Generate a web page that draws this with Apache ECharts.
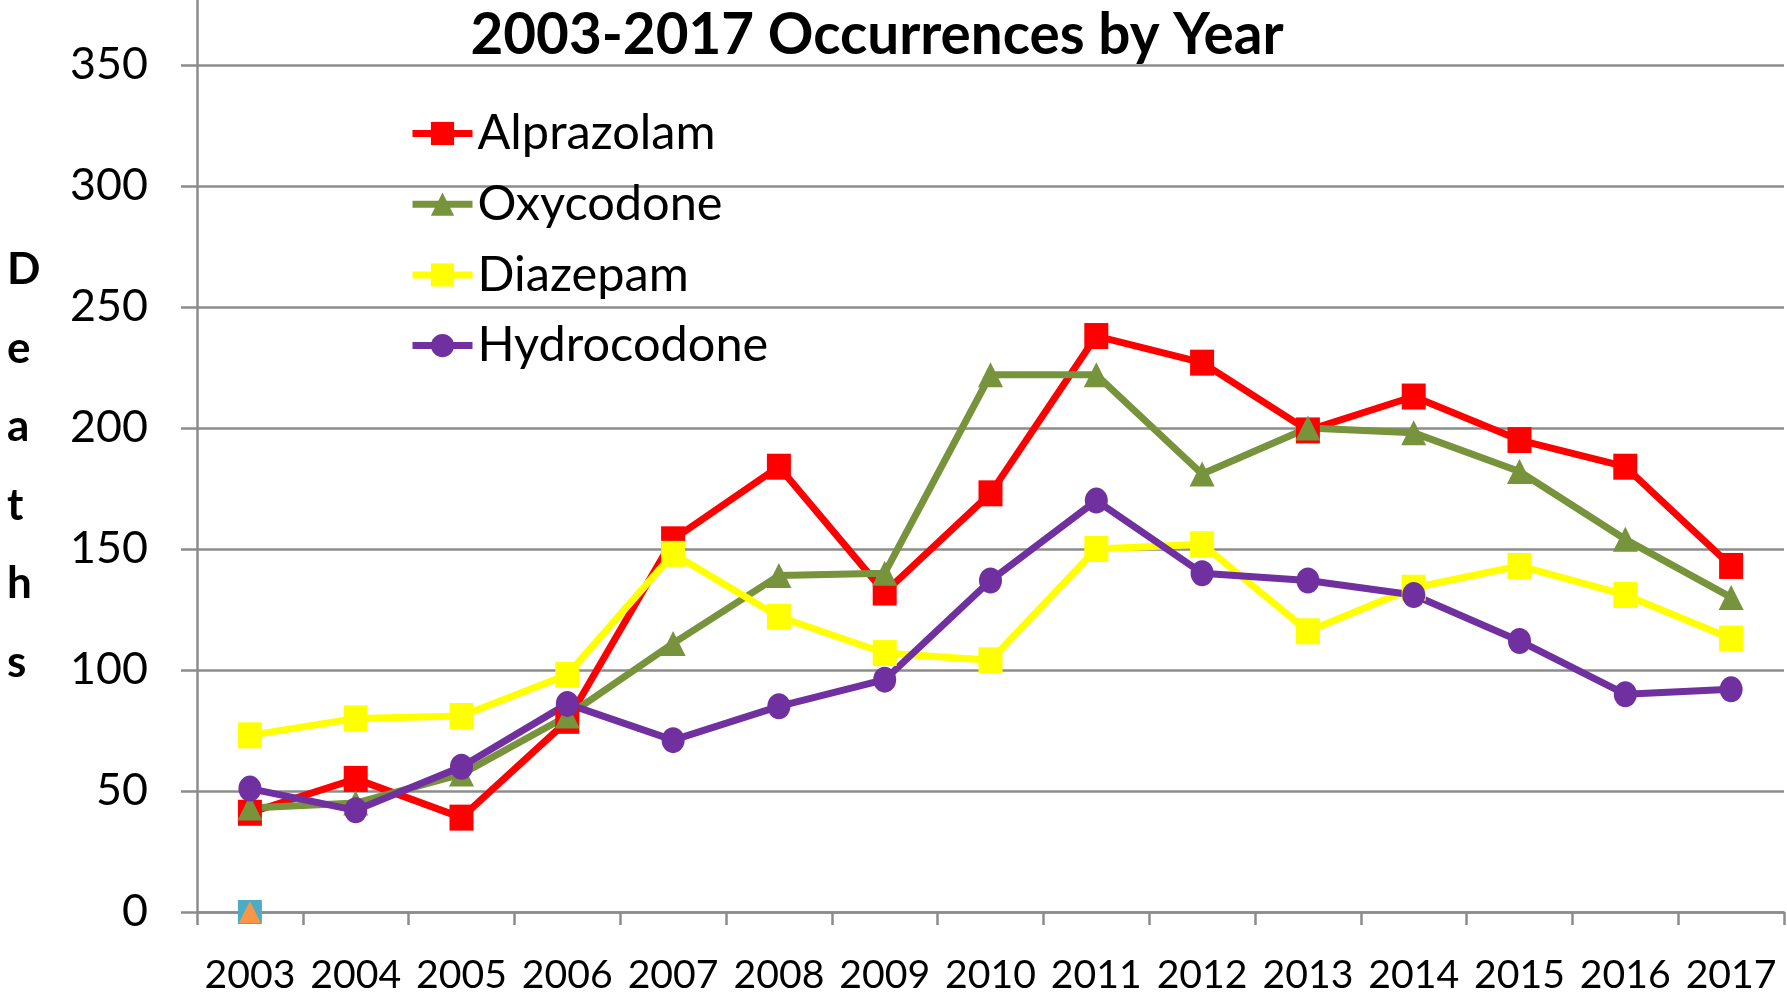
<!DOCTYPE html>
<html><head><meta charset="utf-8">
<script src="https://cdn.jsdelivr.net/npm/echarts@6/dist/echarts.min.js"></script>
<style>html,body{margin:0;padding:0;background:#fff}#c{width:1787px;height:1000px}</style>
</head><body><div id="c"></div>
<script>
const years = ['2003','2004','2005','2006','2007','2008','2009','2010','2011','2012','2013','2014','2015','2016','2017'];
const alprazolam  = [41, 55, 39, 79, 154, 184, 132, 173, 238, 227, 199, 213, 195, 184, 143];
const oxycodone   = [43, 45, 57, 81, 111, 139, 140, 222, 222, 181, 200, 198, 182, 154, 130];
const diazepam    = [73, 80, 81, 98, 148, 122, 107, 104, 150, 152, 116, 134, 143, 131, 113];
const hydrocodone = [51, 42, 60, 86, 71, 85, 96, 137, 170, 140, 137, 131, 112, 90, 92];
const series5 = [0, null, null, null, null, null, null, null, null, null, null, null, null, null, null];
const series6 = [0, null, null, null, null, null, null, null, null, null, null, null, null, null, null];
const yTicks = [0, 50, 100, 150, 200, 250, 300, 350];
const chartTitle = '2003-2017 Occurrences by Year';
const axisTitle = 'Deaths';

function avail(f){
  const c=document.createElement('canvas').getContext('2d');
  const s='mmmmWWWiiilll0123abc';
  c.font='100px monospace'; const a=c.measureText(s).width;
  c.font='100px "'+f+'", monospace'; return c.measureText(s).width!==a;
}
let FAM = 'Lato';
if (avail('Liberation Sans Narrow')) FAM = '"Liberation Sans Narrow"';
function fit(text, weight, target){
  const c=document.createElement('canvas').getContext('2d');
  c.font=weight+' 100px '+FAM;
  return Math.round(100*target/c.measureText(text).width*10)/10;
}
const titleSize = fit(chartTitle,'bold',814);
const ySize = fit('350','normal',78);
const xSize = fit('2003','normal',91);
const legSize = fit('Alprazolam','normal',238);
const nameSize = 44;

const GRID = '#8c8c8c';
function mk(name, data, color, symbol, size){
  return {name, type:'line', data, color, symbol, symbolSize:size,
    lineStyle:{width:7,color}, itemStyle:{color}, showSymbol:true, connectNulls:false};
}
const chart = echarts.init(document.getElementById('c'), null, {renderer:'canvas'});
chart.setOption({
  animation:false,
  backgroundColor:'#fff',
  title:{text:chartTitle,left:872,textAlign:'center',top:2,
    textStyle:{fontFamily:FAM,fontWeight:'bold',fontSize:titleSize,color:'#000'}},
  graphic: axisTitle.split('').map((ch,i)=>({type:'text',left:7,top:248+i*78.5,
    style:{text:ch,font:'bold '+nameSize+'px '+FAM,fill:'#000'}})),
  legend:{orient:'vertical',left:404,top:104,itemWidth:60,itemHeight:29,itemGap:21.7,
    data:['Alprazolam','Oxycodone','Diazepam','Hydrocodone'],
    lineStyle:{width:7},
    textStyle:{fontFamily:FAM,fontSize:legSize,color:'#000',lineHeight:46}},
  grid:{left:197,right:3,top:-56,bottom:88,containLabel:false,outerBoundsMode:'none'},
  xAxis:{type:'category',data:years,boundaryGap:true,
    axisLine:{lineStyle:{color:GRID,width:2.5}},
    axisTick:{show:true,length:13,lineStyle:{color:GRID,width:2.5}},
    axisLabel:{fontFamily:FAM,fontSize:xSize,color:'#000',margin:44,interval:0}},
  yAxis:{type:'value',min:0,max:400,interval:50,
    axisLine:{show:true,lineStyle:{color:GRID,width:2.5}},
    axisTick:{show:true,length:16,lineStyle:{color:GRID,width:2.5}},
    splitLine:{lineStyle:{color:GRID,width:2.5}},
    axisLabel:{fontFamily:FAM,fontSize:ySize,color:'#000',margin:49,
      formatter:v=>yTicks.includes(v)?String(v):''}},
  series:[
    mk('Alprazolam',alprazolam,'#FF0000','rect',[24,26]),
    mk('Oxycodone',oxycodone,'#77933C','triangle',25),
    mk('Diazepam',diazepam,'#FFFF00','rect',[24,26]),
    mk('Hydrocodone',hydrocodone,'#7030A0','circle',[23,26]),
    {name:'Series5',type:'line',data:series5,symbol:'rect',symbolSize:24,itemStyle:{color:'#4BACC6'},lineStyle:{width:0}},
    {name:'Series6',type:'line',data:series6,symbol:'triangle',symbolSize:22,itemStyle:{color:'#F79646'},lineStyle:{width:0}}
  ]
});
</script></body></html>
